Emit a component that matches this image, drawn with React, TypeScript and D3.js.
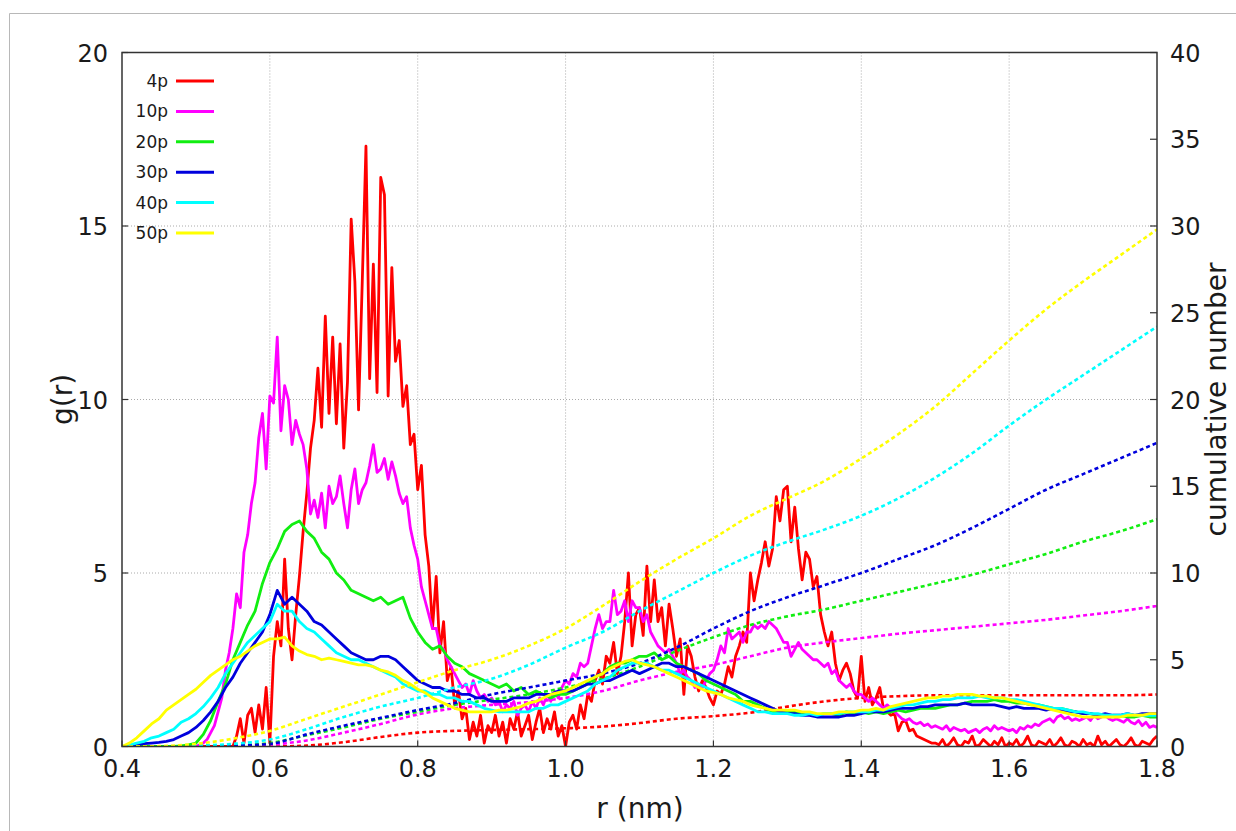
import React from "react";
import * as d3 from "d3";

// ---------- data ----------
const LABELS = ["4p", "10p", "20p", "30p", "40p", "50p"];
const COLORS = ["#ff0000", "#ff00ff", "#11ee11", "#0000dd", "#00ffff", "#ffff00"];

const X_TICKS = [0.4, 0.6, 0.8, 1.0, 1.2, 1.4, 1.6, 1.8];
const Y_TICKS = [0, 5, 10, 15, 20];
const Y2_TICKS = [0, 5, 10, 15, 20, 25, 30, 35, 40];

// sampling grids (nm)
const R_FINE = d3.range(281).map((i) => +(0.4 + i * 0.005).toFixed(3));
const R_MID = d3.range(141).map((i) => +(0.4 + i * 0.01).toFixed(2));
const R_CUM = d3.range(29).map((i) => +(0.4 + i * 0.05).toFixed(2));

// g(r), 0.005 nm steps, 10 values per row (0.05 nm)
const G_4P = [
  0, 0, 0, 0, 0, 0, 0, 0, 0, 0,
  0, 0, 0, 0, 0, 0, 0, 0, 0, 0,
  0, 0, 0, 0, 0, 0, 0, 0, 0, 0,
  0, 0.3, 0.8, 0.1, 0.9, 1.1, 0.4, 1.2, 0.5, 1.7,
  0.1, 2.6, 3.6, 2.9, 5.4, 3.4, 2.5, 3.8, 4.9, 6.2,
  7.3, 8.6, 9.4, 10.9, 9.2, 12.4, 9.6, 11.8, 9.3, 11.6,
  8.6, 10.5, 15.2, 13.4, 9.7, 13.4, 17.3, 10.6, 13.9, 10.2,
  16.4, 15.9, 10.1, 13.8, 11.1, 11.7, 9.8, 10.4, 8.7, 9.0,
  7.4, 8.1, 6.1, 5.2, 3.4, 4.9, 2.7, 3.6, 1.9, 2.3,
  1.2, 1.6, 0.8, 1.1, 0.2, 0.7, 0.3, 0.9, 0.1, 0.6,
  0.4, 0.9, 0.3, 0.7, 0.1, 0.8, 0.5, 1.0, 0.3, 0.6,
  0.9, 0.2, 0.7, 1.1, 0.4, 0.8, 0.5, 1.0, 0.3, 0.6,
  0.0, 0.7, 0.9, 0.5, 1.2, 0.8, 1.5, 1.3, 1.9, 2.2,
  1.8, 2.6, 2.4, 3.0, 2.1, 2.6, 3.6, 5.0, 2.9, 3.8,
  4.0, 3.2, 5.2, 3.6, 4.8, 3.6, 4.0, 2.9, 4.1, 3.4,
  2.6, 3.1, 1.5, 2.9, 2.6, 2.0, 1.6, 1.9, 1.7, 1.4,
  1.2, 1.6, 1.5, 1.8, 2.3, 2.0, 2.6, 2.9, 3.3, 3.0,
  5.0, 4.2, 4.8, 5.3, 5.9, 5.2, 5.7, 7.2, 6.5, 7.4,
  7.5, 5.9, 6.9, 5.7, 4.8, 5.6, 5.4, 4.6, 4.9, 3.8,
  3.3, 2.9, 3.3, 2.4, 1.9, 2.2, 2.4, 2.1, 1.6, 1.4,
  2.6, 1.3, 1.7, 1.2, 1.4, 1.7, 1.1, 1.0, 0.9, 0.95,
  0.45, 0.7, 0.75, 0.45, 0.5, 0.3, 0.25, 0.2, 0.15, 0.1,
  0.1, 0.05, 0.2, 0.0, 0.1, 0.25, 0.05, 0.0, 0.15, 0.1,
  0.3, 0.0, 0.05, 0.2, 0.1, 0.0, 0.15, 0.05, 0.25, 0.0,
  0.1, 0.05, 0.2, 0.0, 0.1, 0.3, 0.05, 0.0, 0.15, 0.1,
  0.05, 0.2, 0.0, 0.1, 0.25, 0.05, 0.0, 0.15, 0.1, 0.0,
  0.2, 0.05, 0.1, 0.0, 0.3, 0.05, 0.15, 0.0, 0.1, 0.2,
  0.05, 0.0, 0.1, 0.25, 0.05, 0.0, 0.15, 0.1, 0.05, 0.2,
  0.3,
];

const G_10P = [
  0, 0, 0, 0, 0, 0, 0, 0, 0, 0,
  0, 0, 0, 0, 0, 0, 0, 0, 0, 0,
  0, 0.05, 0.1, 0.2, 0.4, 0.6, 1.0, 1.4, 2.2, 2.7,
  3.4, 4.4, 4.0, 5.6, 6.1, 7.0, 7.6, 8.9, 9.6, 8.0,
  10.1, 9.9, 11.8, 9.1, 10.4, 10.0, 8.7, 9.4, 9.0, 8.7,
  8.0, 6.7, 7.1, 6.6, 7.3, 6.3, 7.5, 7.0, 7.2, 7.8,
  7.0, 6.3, 7.4, 8.0, 7.0, 7.4, 7.6, 8.1, 8.7, 7.9,
  8.0, 8.3, 7.7, 8.2, 7.8, 7.3, 7.0, 7.2, 6.3, 5.8,
  5.4, 4.6, 4.2, 3.8, 3.4, 3.4, 2.9, 2.8, 2.5, 2.3,
  2.1, 1.9, 1.7, 1.8, 1.5, 1.9, 1.6, 1.4, 1.5, 1.3,
  1.4, 1.2, 1.3, 1.0, 1.2, 1.1, 1.3, 0.9, 1.1, 1.2,
  1.0, 1.3, 1.1, 1.4, 1.2, 1.5, 1.3, 1.6, 1.4, 1.7,
  1.9, 1.8, 2.1, 2.0, 2.4, 2.3, 2.4, 2.9, 3.4, 3.8,
  3.4, 3.6, 3.6, 4.5, 3.8, 3.9, 4.2, 3.6, 4.2, 4.0,
  4.0, 3.6, 3.8, 3.3, 3.1, 2.9, 2.8, 2.7, 2.8, 2.6,
  2.4, 2.1, 2.2, 2.0, 1.9, 1.7, 1.8, 1.7, 1.9, 2.1,
  2.2, 2.5, 2.9, 2.7, 3.4, 3.1, 3.2, 3.3, 3.0, 3.3,
  3.3, 3.5, 3.4, 3.5, 3.4, 3.6, 3.5, 3.4, 3.2, 3.0,
  3.0, 2.6, 2.8, 3.0, 2.8, 2.7, 2.6, 2.5, 2.5, 2.4,
  2.3, 2.4, 2.1, 2.2, 1.9, 1.8, 1.7, 1.8, 1.6, 1.5,
  1.5, 1.4, 1.3, 1.4, 1.3, 1.2, 1.1, 1.2, 1.1, 1.0,
  0.9, 0.8, 0.75, 0.8, 0.7, 0.65, 0.7, 0.6, 0.65, 0.55,
  0.6, 0.55, 0.5, 0.6, 0.45, 0.55, 0.5, 0.45, 0.5, 0.4,
  0.45, 0.5, 0.4, 0.5, 0.55, 0.45, 0.6, 0.5, 0.55, 0.5,
  0.45, 0.5, 0.4, 0.55, 0.5, 0.6, 0.55, 0.65, 0.6, 0.7,
  0.75, 0.8, 0.7, 0.85, 0.9, 0.8, 0.85, 0.75, 0.8, 0.75,
  0.8, 0.85, 0.75, 0.9, 0.8, 0.85, 0.9, 0.8, 0.75, 0.8,
  0.75, 0.7, 0.8, 0.7, 0.65, 0.75, 0.6, 0.7, 0.55, 0.6,
  0.55,
];

// g(r), 0.01 nm steps, 10 values per row (0.1 nm)
const G_20P = [
  0, 0, 0, 0, 0, 0, 0, 0, 0.02, 0.05,
  0.1, 0.35, 0.75, 1.3, 1.8, 2.5, 3.0, 3.5, 3.9, 4.7,
  5.3, 5.7, 6.2, 6.4, 6.5, 6.2, 6.0, 5.6, 5.4, 5.0,
  4.8, 4.5, 4.4, 4.3, 4.2, 4.3, 4.1, 4.2, 4.3, 3.7,
  3.3, 3.0, 2.8, 2.9, 2.6, 2.4, 2.3, 2.1, 2.0, 1.9,
  1.8, 1.7, 1.8, 1.6, 1.7, 1.5, 1.6, 1.5, 1.4, 1.5,
  1.5, 1.6, 1.7, 1.8, 2.0, 2.1, 2.3, 2.4, 2.4, 2.5,
  2.6, 2.6, 2.7, 2.5, 2.6, 2.4, 2.3, 2.2, 2.1, 1.9,
  1.8, 1.7, 1.6, 1.5, 1.3, 1.3, 1.2, 1.1, 1.0, 1.0,
  1.0, 1.0, 0.95, 0.95, 0.9, 0.95, 0.95, 0.9, 1.0, 0.95,
  1.0, 0.95, 1.0, 0.95, 1.0, 1.05, 1.0, 1.05, 1.1, 1.1,
  1.1, 1.15, 1.2, 1.2, 1.25, 1.3, 1.3, 1.3, 1.35, 1.3,
  1.3, 1.25, 1.25, 1.2, 1.2, 1.15, 1.1, 1.1, 1.05, 1.0,
  0.95, 0.95, 0.9, 0.9, 0.85, 0.9, 0.85, 0.85, 0.9, 0.85,
  0.85,
];

const G_30P = [
  0, 0.02, 0.05, 0.08, 0.1, 0.12, 0.15, 0.2, 0.3, 0.4,
  0.55, 0.75, 1.0, 1.3, 1.7, 2.0, 2.4, 2.7, 3.0, 3.3,
  3.8, 4.5, 4.1, 4.3, 4.1, 3.9, 3.6, 3.5, 3.3, 3.1,
  2.9, 2.7, 2.6, 2.5, 2.5, 2.6, 2.6, 2.5, 2.3, 2.1,
  1.9, 1.8, 1.7, 1.7, 1.6, 1.6, 1.5, 1.5, 1.4, 1.4,
  1.3, 1.3, 1.3, 1.4, 1.4, 1.4, 1.5, 1.5, 1.5, 1.6,
  1.6, 1.6, 1.7, 1.8, 1.8, 1.9, 1.9, 2.0, 2.1, 2.2,
  2.1, 2.2, 2.3, 2.4, 2.4, 2.3, 2.3, 2.2, 2.1, 2.0,
  1.9, 1.8, 1.7, 1.6, 1.5, 1.4, 1.3, 1.2, 1.1, 1.0,
  0.95, 0.95, 0.9, 0.9, 0.85, 0.85, 0.85, 0.85, 0.9, 0.9,
  0.95, 1.0, 1.0, 1.0, 1.05, 1.1, 1.1, 1.1, 1.15, 1.15,
  1.2, 1.2, 1.2, 1.2, 1.25, 1.2, 1.2, 1.2, 1.2, 1.15,
  1.1, 1.15, 1.1, 1.1, 1.1, 1.05, 1.1, 1.05, 1.0, 1.0,
  0.95, 0.95, 0.9, 0.95, 0.9, 0.9, 0.95, 0.9, 0.95, 0.95,
  0.95,
];

const G_40P = [
  0, 0.05, 0.1, 0.15, 0.25, 0.3, 0.4, 0.5, 0.7, 0.8,
  0.95, 1.15, 1.4, 1.7, 2.1, 2.4, 2.7, 3.0, 3.2, 3.4,
  3.6, 4.1, 3.9, 3.9, 3.6, 3.4, 3.3, 3.1, 2.9, 2.7,
  2.6, 2.5, 2.5, 2.4, 2.3, 2.2, 2.1, 2.0, 1.8, 1.7,
  1.6, 1.6, 1.5, 1.5, 1.4, 1.4, 1.3, 1.3, 1.2, 1.1,
  1.05, 1.0, 1.0, 1.0, 1.0, 1.0, 1.1, 1.1, 1.2, 1.2,
  1.3, 1.4, 1.5, 1.6, 1.8, 1.9, 2.0, 2.2, 2.3, 2.4,
  2.4, 2.4, 2.3, 2.2, 2.2, 2.1, 2.0, 1.9, 1.8, 1.7,
  1.6, 1.5, 1.4, 1.3, 1.2, 1.1, 1.0, 1.0, 0.95, 0.95,
  0.95, 0.9, 0.9, 0.95, 0.9, 0.95, 0.95, 0.95, 1.0, 1.0,
  1.0, 1.0, 1.05, 1.05, 1.1, 1.15, 1.2, 1.2, 1.25, 1.3,
  1.3, 1.35, 1.35, 1.4, 1.4, 1.4, 1.45, 1.4, 1.4, 1.4,
  1.35, 1.35, 1.3, 1.25, 1.2, 1.15, 1.1, 1.1, 1.05, 1.0,
  1.0, 0.95, 0.95, 0.9, 0.9, 0.9, 0.95, 0.9, 0.9, 0.9,
  0.9,
];

const G_50P = [
  0, 0.1, 0.25, 0.45, 0.65, 0.8, 1.05, 1.2, 1.35, 1.5,
  1.65, 1.85, 2.05, 2.2, 2.35, 2.5, 2.6, 2.75, 2.9, 3.0,
  3.1, 3.1, 3.15, 2.9, 2.75, 2.65, 2.6, 2.5, 2.55, 2.5,
  2.45, 2.4, 2.35, 2.35, 2.3, 2.2, 2.15, 2.05, 1.9, 1.8,
  1.65, 1.55, 1.4, 1.3, 1.2, 1.1, 1.05, 1.0, 1.0, 1.0,
  1.0, 1.05, 1.05, 1.1, 1.15, 1.25, 1.3, 1.4, 1.5, 1.55,
  1.6, 1.7, 1.8, 1.9, 2.0, 2.1, 2.25, 2.35, 2.45, 2.5,
  2.4, 2.35, 2.3, 2.2, 2.1, 2.0, 1.9, 1.8, 1.7, 1.6,
  1.55, 1.5, 1.4, 1.35, 1.3, 1.2, 1.15, 1.1, 1.05, 1.05,
  1.05, 1.05, 1.0, 1.0, 0.95, 0.95, 0.95, 1.0, 1.0, 1.0,
  1.05, 1.05, 1.1, 1.05, 1.15, 1.2, 1.25, 1.3, 1.35, 1.4,
  1.4, 1.45, 1.45, 1.5, 1.5, 1.5, 1.45, 1.45, 1.4, 1.4,
  1.35, 1.3, 1.25, 1.2, 1.15, 1.1, 1.05, 1.0, 0.95, 0.9,
  0.85, 0.85, 0.85, 0.85, 0.85, 0.85, 0.9, 0.9, 0.9, 0.95,
  0.95,
];

// cumulative number, 0.05 nm steps
const N_4P = [0, 0, 0, 0, 0, 0.05, 0.25, 0.55, 0.8, 0.9, 0.95, 1.0, 1.05, 1.15, 1.35, 1.6, 1.75, 1.95, 2.3, 2.6, 2.8, 2.9, 2.95, 2.95, 2.95, 2.95, 2.95, 2.95, 3.0];
const N_10P = [0, 0, 0, 0.02, 0.1, 0.35, 0.8, 1.3, 1.85, 2.2, 2.4, 2.55, 2.8, 3.2, 3.8, 4.3, 4.7, 5.2, 5.7, 6.0, 6.25, 6.5, 6.7, 6.9, 7.1, 7.3, 7.55, 7.8, 8.1];
const N_20P = [0, 0, 0, 0.05, 0.2, 0.65, 1.1, 1.6, 2.0, 2.4, 2.7, 3.0, 3.4, 3.9, 4.6, 5.5, 6.3, 7.0, 7.5, 7.9, 8.4, 8.9, 9.4, 9.9, 10.5, 11.1, 11.8, 12.4, 13.1];
const N_30P = [0, 0, 0.02, 0.05, 0.15, 0.7, 1.2, 1.65, 2.1, 2.5, 3.0, 3.4, 3.8, 4.2, 4.8, 5.7, 6.8, 7.8, 8.6, 9.3, 10.0, 10.8, 11.6, 12.6, 13.7, 14.8, 15.7, 16.6, 17.5];
const N_40P = [0, 0, 0.05, 0.15, 0.4, 1.0, 1.7, 2.3, 2.8, 3.4, 3.9, 4.7, 5.7, 6.6, 7.8, 8.9, 10.0, 11.0, 11.8, 12.5, 13.3, 14.3, 15.5, 16.9, 18.5, 20.0, 21.4, 22.8, 24.2];
const N_50P = [0, 0.02, 0.15, 0.45, 0.9, 1.6, 2.3, 3.0, 3.7, 4.4, 5.0, 5.8, 6.8, 8.1, 9.5, 10.8, 12.0, 13.3, 14.3, 15.3, 16.6, 18.0, 19.6, 21.5, 23.4, 25.2, 26.8, 28.3, 29.8];

const G_SERIES = [G_4P, G_10P, G_20P, G_30P, G_40P, G_50P];
const G_GRIDS = [R_FINE, R_FINE, R_MID, R_MID, R_MID, R_MID];
const N_SERIES = [N_4P, N_10P, N_20P, N_30P, N_40P, N_50P];

// ---------- layout ----------
const W = 1236;
const H = 831;
const L = 122;
const R = 1157;
const T = 52.5;
const B = 746.5;

const x = d3.scaleLinear().domain([0.4, 1.8]).range([L, R]);
const y = d3.scaleLinear().domain([0, 20]).range([B, T]);
const y2 = d3.scaleLinear().domain([0, 40]).range([B, T]);

const FONT = "'DejaVu Sans', 'Liberation Sans', Arial, sans-serif";
const TXT = "#1a1a1a";

export default function App() {
  const gLine = (rs: number[]) =>
    d3
      .line<number>()
      .x((_, i) => x(rs[i]))
      .y((d) => y(d))
      .curve(d3.curveLinear);
  const nLine = d3
    .line<number>()
    .x((_, i) => x(R_CUM[i]))
    .y((d) => y2(d))
    .curve(d3.curveMonotoneX);

  const gridX = X_TICKS.filter((t) => t > 0.41 && t < 1.79);
  const gridY = Y_TICKS.filter((t) => t > 0 && t < 20);

  return (
    <svg
      width={W}
      height={H}
      style={{ position: "absolute", left: 0, top: 0, background: "#fff" }}
      fontFamily={FONT}
    >
      <defs>
        <clipPath id="plot">
          <rect x={L} y={T} width={R - L} height={B - T} />
        </clipPath>
      </defs>
      {/* outer faint border */}
      <line x1={9.5} y1={13.5} x2={W} y2={13.5} stroke="#b8b8b8" strokeWidth={1} />
      <line x1={9.5} y1={13.5} x2={9.5} y2={H} stroke="#b8b8b8" strokeWidth={1} />

      {/* grid */}
      <g stroke="#aaaaaa" strokeWidth={1} strokeDasharray="1,2">
        {gridX.map((t) => (
          <line key={"gx" + t} x1={x(t)} x2={x(t)} y1={T} y2={B} />
        ))}
        {gridY.map((t) => (
          <line key={"gy" + t} x1={L} x2={R} y1={y(t)} y2={y(t)} />
        ))}
      </g>

      {/* series */}
      <g clipPath="url(#plot)" fill="none">
        {LABELS.map((lab, i) => (
          <g key={lab}>
            <path
              d={gLine(G_GRIDS[i])(G_SERIES[i]) || ""}
              stroke={COLORS[i]}
              strokeWidth={2.8}
              strokeLinejoin="round"
            />
            <path
              d={nLine(N_SERIES[i]) || ""}
              stroke={COLORS[i]}
              strokeWidth={2.6}
              strokeDasharray="4,3"
            />
          </g>
        ))}
      </g>

      {/* frame */}
      <rect x={L} y={T} width={R - L} height={B - T} fill="none" stroke="#333" strokeWidth={1.5} />

      {/* ticks */}
      <g stroke="#333" strokeWidth={1.2}>
        {X_TICKS.map((t) => (
          <line key={"tx" + t} x1={x(t)} x2={x(t)} y1={B} y2={B - 6} />
        ))}
        {Y_TICKS.map((t) => (
          <line key={"ty" + t} x1={L} x2={L + 6} y1={y(t)} y2={y(t)} />
        ))}
        {Y2_TICKS.map((t) => (
          <line key={"ty2" + t} x1={R} x2={R - 7} y1={y2(t)} y2={y2(t)} />
        ))}
      </g>

      {/* tick labels */}
      <g fill={TXT} fontSize={24}>
        {X_TICKS.map((t) => (
          <text key={"lx" + t} x={x(t)} y={777} textAnchor="middle">
            {t.toFixed(1)}
          </text>
        ))}
        {Y_TICKS.map((t) => (
          <text key={"ly" + t} x={108} y={y(t) + 9} textAnchor="end">
            {t}
          </text>
        ))}
        {Y2_TICKS.map((t) => (
          <text key={"ly2" + t} x={1170} y={y2(t) + 9} textAnchor="start">
            {t}
          </text>
        ))}
      </g>

      {/* axis titles */}
      <g fill={TXT} fontSize={28}>
        <text x={640} y={818} textAnchor="middle">
          r (nm)
        </text>
        <text transform={`translate(72,${(T + B) / 2}) rotate(-90)`} textAnchor="middle">
          g(r)
        </text>
        <text transform={`translate(1226,${(T + B) / 2}) rotate(-90)`} textAnchor="middle">
          cumulative number
        </text>
      </g>

      {/* legend */}
      <g fontSize={17} fill={TXT}>
        {LABELS.map((lab, i) => {
          const ly = 81 + i * 30.4;
          return (
            <g key={"leg" + lab}>
              <text x={168} y={ly + 6} textAnchor="end">
                {lab}
              </text>
              <line x1={176} x2={214} y1={ly} y2={ly} stroke={COLORS[i]} strokeWidth={3} />
            </g>
          );
        })}
      </g>
    </svg>
  );
}
